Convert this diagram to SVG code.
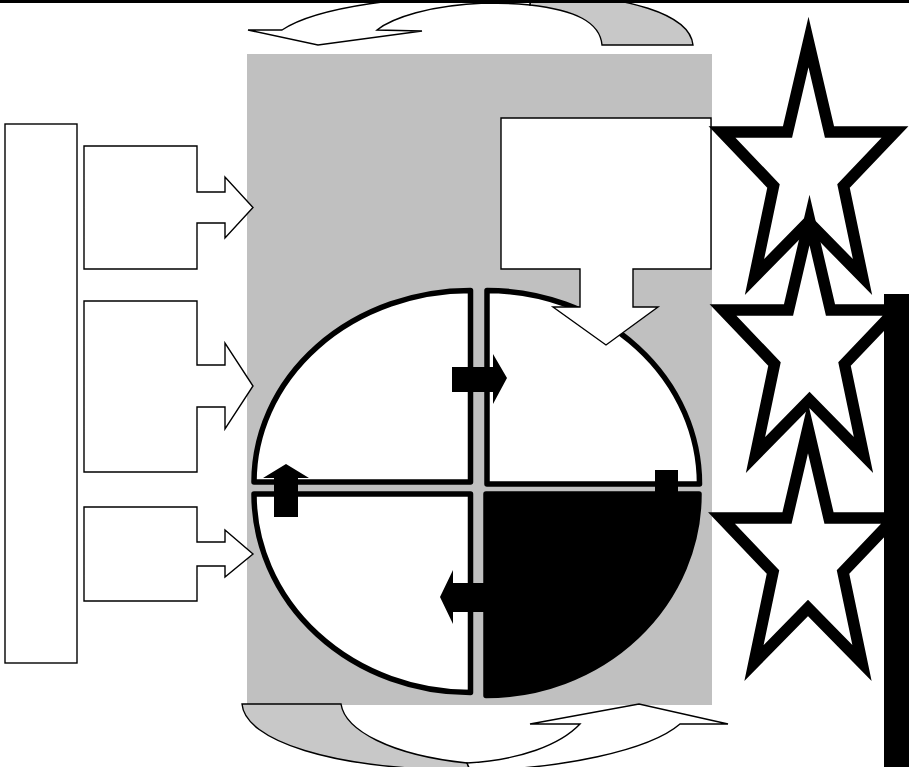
<svg xmlns="http://www.w3.org/2000/svg" xmlns:xlink="http://www.w3.org/1999/xlink" width="909" height="767" viewBox="0 0 909 767">
<style>
.thin{fill:#fff;stroke:#000;stroke-width:1.4;stroke-linejoin:miter}
.back{fill:#c8c8c8;stroke:#000;stroke-width:1.4}
.quad{fill:#fff;stroke:#000;stroke-width:5.5;stroke-linejoin:round}
.quad.dark{fill:#000}
.star{fill:#fff;stroke:#000;stroke-width:11.5;stroke-linejoin:miter;stroke-miterlimit:10}
.solid{fill:#000;stroke:none}
</style>
<defs>
<polygon id="starShape" points="0,0 21,90 86.5,90 35,144 54,235 0,180 -54,235 -35,144 -86.5,90 -21,90"/>
</defs>
<rect x="0" y="0" width="909" height="767" fill="#fff"/>
<rect id="panel" x="247" y="54" width="465" height="651" fill="#c0c0c0"/>

<g id="connectors">
  <g id="cycle-top">
    <path class="back" d="M530,5 C575,10 600,22 602,45 L693,45 C690,15 630,-6 530,-6 Z"/>
    <path class="thin" d="M530,-6 C400,-6 315,8 282,30 L248,30 L318,45 L422,31 L377,30 C392,18 430,5 485,3 C505,3 518,4 530,5 Z"/>
  </g>
  <g id="cycle-bottom">
    <path class="back" d="M242,704 L341,704 C345,730 390,755 467,763 L470,770 C330,770 245,740 242,704 Z"/>
    <path class="thin" d="M467,763 C520,760 560,745 580,724 L530,724 L639,704 L728,724 L680,724 C650,750 560,770 470,770 Z"/>
  </g>
</g>

<g id="source-bar"><rect class="thin" x="5" y="124" width="72" height="539"/></g>
<g id="input-1"><path class="thin" d="M84,146 H197 V192 H225 V177 L253,207.5 L225,238 V223 H197 V269 H84 Z"/></g>
<g id="input-2"><path class="thin" d="M84,301 H197 V365 H225 V343 L253,386 L225,429 V407 H197 V472 H84 Z"/></g>
<g id="input-3"><path class="thin" d="M84,507 H197 V542 H225 V530 L253,554 L225,577 V566 H197 V601 H84 Z"/></g>

<g id="cycle">
  <path id="q-top-left" class="quad" d="M470.5,482 L470.5,290.5 A216.5,191.5 0 0 0 254,482 Z"/>
  <path id="q-top-right" class="quad" d="M487,484 L487,290.5 A212.5,193.5 0 0 1 699.5,484 Z"/>
  <path id="q-bottom-left" class="quad" d="M470.5,494 L254,494 A216.5,198.5 0 0 0 470.5,692.5 Z"/>
  <path id="q-bottom-right" class="quad dark" d="M486,494 L699,494 A213,201.5 0 0 1 486,695.5 Z"/>
  <g id="step-arrows">
    <path class="solid" d="M452,367 H493 V354 L507,378 L493,404 V392 H452 Z"/>
    <path class="solid" d="M274,517 V478 H263 L286,464 L309,478 H298 V517 Z"/>
    <rect class="solid" x="655" y="470" width="23" height="30"/>
    <path class="solid" d="M486,583 H453 V570 L440,597 L453,624 V612 H486 Z"/>
  </g>
</g>

<g id="feedback-box"><path class="thin" d="M501,118 H711 V269 H633 V307 H658 L606,345 L553,307 H580 V269 H501 Z"/></g>

<g id="star-1"><use xlink:href="#starShape" class="star" transform="translate(808.5,42)"/></g>
<g id="star-2"><use xlink:href="#starShape" class="star" transform="translate(809.5,220)"/></g>
<g id="star-3"><use xlink:href="#starShape" class="star" transform="translate(808,428)"/></g>

<g id="right-bar"><rect class="solid" x="884" y="294" width="25" height="473"/></g>
<g id="top-rule"><rect class="solid" x="0" y="0" width="909" height="3"/></g>
</svg>
